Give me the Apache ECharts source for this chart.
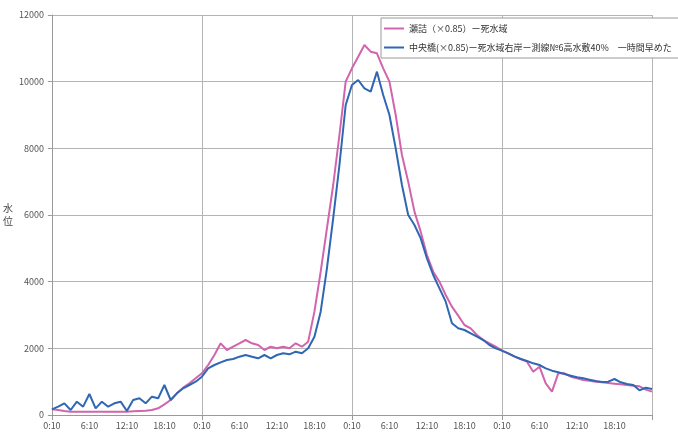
<!DOCTYPE html>
<html><head><meta charset="utf-8">
<script src="https://cdn.jsdelivr.net/npm/echarts@6/dist/echarts.min.js"></script>
<style>html,body{margin:0;padding:0;background:#fff}#c{width:678px;height:434px}</style>
</head><body><div id="c"></div>
<script>
const seriesNames = ['瀬詰（×0.85）ー死水域', '中央橋(×0.85)ー死水域右岸ー測線№6高水敷40%　一時間早めた'];
// hourly sample times over 4 days (0:10 day1 ... 0:10 day5)
const hours = ['0:10','1:10','2:10','3:10','4:10','5:10','6:10','7:10','8:10','9:10','10:10','11:10','12:10','13:10','14:10','15:10','16:10','17:10','18:10','19:10','20:10','21:10','22:10','23:10'];
const categories = [];
for (let d = 0; d < 4; d++) for (const h of hours) categories.push(h);
categories.push('0:10');
const yTicks = [0, 2000, 4000, 6000, 8000, 10000, 12000];
const setsume = [170,150,120,100,100,100,100,100,100,100,100,100,100,110,120,130,150,200,320,450,650,820,950,1100,
  1250,1500,1800,2150,1950,2050,2150,2250,2150,2100,1950,2050,2000,2050,2000,2150,2050,2200,3100,4300,5600,6900,8400,10000,
  10400,10750,11100,10900,10850,10400,10000,9000,7800,7000,6100,5500,4800,4300,4000,3600,3250,2980,2700,2600,2400,2250,2150,2050,
  1930,1850,1750,1680,1600,1300,1450,950,700,1250,1250,1150,1100,1050,1030,1000,980,960,940,920,900,880,860,760,
  700];
const chuo = [170,250,350,150,400,250,630,200,400,250,350,400,120,450,500,350,550,500,900,450,650,800,900,1000,
  1150,1400,1500,1580,1650,1680,1750,1800,1750,1700,1800,1700,1800,1850,1820,1900,1850,2000,2350,3100,4400,5900,7500,9300,
  9900,10050,9800,9700,10300,9600,9000,8000,6900,6000,5700,5300,4700,4200,3800,3400,2750,2600,2550,2450,2350,2250,2100,2000,
  1930,1850,1760,1680,1620,1550,1500,1400,1330,1280,1230,1180,1130,1100,1060,1020,990,1000,1080,980,930,900,740,820,
  780];

const chart = echarts.init(document.getElementById('c'), null, {renderer: 'canvas'});
const gridColor = '#b4b4b4';
chart.setOption({
  animation: false,
  textStyle: {fontFamily: '"Noto Sans CJK JP", "Noto Sans", sans-serif'},
  grid: {left: 48, right: 26, top: 15, bottom: 19, containLabel: false},
  legend: {
    orient: 'vertical', left: 381, top: 18,
    backgroundColor: '#fff', borderColor: '#999', borderWidth: 1,
    padding: [6, 8, 6, 3], itemGap: 10, itemWidth: 20, itemHeight: 2,
    icon: 'rect',
    textStyle: {fontSize: 9, color: '#333'},
    data: seriesNames
  },
  xAxis: {
    type: 'category', data: categories, boundaryGap: false,
    axisLine: {lineStyle: {color: '#999'}},
    axisTick: {show: true, interval: (i) => i % 24 === 0, lineStyle: {color: '#999'}},
    axisLabel: {interval: (i) => i % 6 === 0 && i < 96, fontSize: 9, color: '#555', margin: 6},
    splitLine: {show: true, interval: (i) => i % 24 === 0, lineStyle: {color: gridColor, width: 1}}
  },
  yAxis: {
    type: 'value', min: yTicks[0], max: yTicks[yTicks.length - 1], interval: 2000,
    name: '水\n位', nameLocation: 'middle', nameRotate: 0, nameGap: 36,
    nameTextStyle: {fontSize: 10, color: '#444', lineHeight: 13},
    axisLine: {show: true, lineStyle: {color: '#999'}},
    axisTick: {show: true, length: 4, lineStyle: {color: '#999'}},
    axisLabel: {fontSize: 9, color: '#555', margin: 8, formatter: (v) => String(v)},
    splitLine: {show: true, lineStyle: {color: gridColor, width: 1}}
  },
  series: [
    {name: seriesNames[0], type: 'line', data: setsume, symbol: 'none', lineStyle: {color: '#d264ad', width: 2}, itemStyle: {color: '#d264ad'}},
    {name: seriesNames[1], type: 'line', data: chuo, symbol: 'none', lineStyle: {color: '#2f67b2', width: 2}, itemStyle: {color: '#2f67b2'}}
  ]
});
</script></body></html>
